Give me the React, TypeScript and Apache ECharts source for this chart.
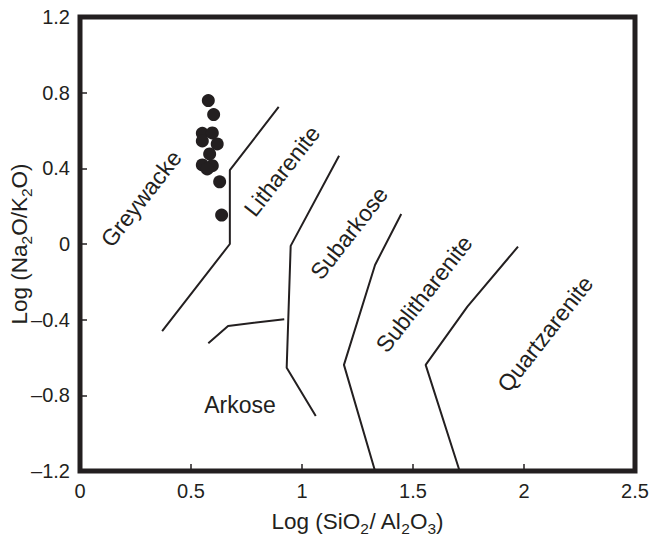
import React, { useEffect, useRef } from 'react';
import * as echarts from 'echarts';

const FONT = '"Liberation Sans", Arial, Helvetica, sans-serif';
const INK = '#231f20';

// axis ranges / ticks
const xMin = 0;
const xMax = 2.5;
const xStep = 0.5;
const yMin = -1.2;
const yMax = 1.2;
const yStep = 0.4;

// sample points (Log SiO2/Al2O3, Log Na2O/K2O)
const sampleX = [0.578, 0.602, 0.551, 0.596, 0.551, 0.618, 0.584, 0.551, 0.596, 0.573, 0.629, 0.638];
const sampleY = [0.758, 0.684, 0.585, 0.587, 0.545, 0.529, 0.476, 0.418, 0.414, 0.397, 0.329, 0.153];

// field boundary lines
const lineGreywacke = [[0.37, -0.46], [0.675, 0.0], [0.675, 0.39], [0.895, 0.725]];
const lineArkose = [[0.578, -0.525], [0.667, -0.433], [0.92, -0.398]];
const lineSubarkose = [[1.167, 0.467], [0.949, -0.01], [0.931, -0.654], [1.062, -0.909]];
const lineSublith = [[1.447, 0.159], [1.329, -0.111], [1.189, -0.639], [1.329, -1.2]];
const lineQuartz = [[1.973, -0.014], [1.745, -0.331], [1.557, -0.639], [1.71, -1.2]];

// field names
const fieldNames = ['Greywacke', 'Litharenite', 'Subarkose', 'Sublitharenite', 'Quartzarenite', 'Arkose'];
const fieldX = [0.275, 0.91, 1.212, 1.55, 2.095, 0.721];
const fieldY = [0.24, 0.386, 0.058, -0.264, -0.475, -0.851];
const fieldAngle = [52, 52, 52, 52, 52, 0];

const boundaries = [lineGreywacke, lineArkose, lineSubarkose, lineSublith, lineQuartz];

export default function App() {
  const ref = useRef<HTMLDivElement>(null);
  useEffect(() => {
    if (!ref.current) return;
    const chart = echarts.init(ref.current, undefined, { renderer: 'svg' });
    const richAxis = {
      a: { fontSize: 22.5, fontFamily: FONT, color: INK, lineHeight: 30, verticalAlign: 'middle' },
      b: { fontSize: 15.5, fontFamily: FONT, color: INK, lineHeight: 15, verticalAlign: 'bottom' },
    };
    const yFmt = (v: number) => {
      const r = Math.round(v * 10) / 10;
      if (r === 0) return '0';
      return (r < 0 ? '\u2013' : '') + Math.abs(r).toFixed(1);
    };
    const option: any = {
      animation: false,
      backgroundColor: '#fff',
      grid: {
        left: 80,
        right: 19,
        top: 17,
        bottom: 65,
        containLabel: false,
        outerBoundsMode: 'none',
        show: true,
        borderColor: INK,
        borderWidth: 5,
        backgroundColor: 'transparent',
      },
      xAxis: {
        type: 'value',
        min: xMin,
        max: xMax,
        interval: xStep,
        splitLine: { show: false },
        axisLine: { show: false, onZero: false },
        axisTick: { show: true, inside: true, length: 7, lineStyle: { color: INK, width: 1.5 } },
        axisLabel: { color: INK, fontSize: 20, fontFamily: FONT, margin: 10 },
        name: '{a|Log (SiO}{b|2}{a|/ Al}{b|2}{a|O}{b|3}{a|)}',
        nameLocation: 'middle',
        nameGap: 35,
        nameMoveOverlap: false,
        nameTextStyle: { rich: richAxis },
      },
      yAxis: {
        type: 'value',
        min: yMin,
        max: yMax,
        interval: yStep,
        splitLine: { show: false },
        axisLine: { show: false, onZero: false },
        axisTick: { show: true, inside: true, length: 7, lineStyle: { color: INK, width: 1.5 } },
        axisLabel: { color: INK, fontSize: 20, fontFamily: FONT, margin: 10, formatter: yFmt },
        name: '{a|Log (Na}{b|2}{a|O/K}{b|2}{a|O)}',
        nameLocation: 'middle',
        nameRotate: 90,
        nameGap: 46,
        nameMoveOverlap: false,
        nameTextStyle: { rich: richAxis },
      },
      series: [
        ...boundaries.map((d) => ({
          type: 'line',
          data: d,
          showSymbol: false,
          symbol: 'none',
          lineStyle: { color: INK, width: 2 },
          silent: true,
          z: 2,
        })),
        {
          type: 'scatter',
          data: sampleX.map((x, i) => [x, sampleY[i]]),
          symbol: 'circle',
          symbolSize: 13,
          itemStyle: { color: INK, opacity: 1 },
          z: 3,
        },
        {
          type: 'scatter',
          symbolSize: 0,
          itemStyle: { color: INK },
          data: fieldNames.map((n, i) => ({
            name: n,
            value: [fieldX[i], fieldY[i]],
            label: { rotate: fieldAngle[i] },
          })),
          label: {
            show: true,
            position: 'inside',
            formatter: '{b}',
            color: INK,
            opacity: 1,
            textBorderWidth: 0,
            fontSize: 23,
            fontFamily: FONT,
          },
          z: 4,
        },
      ],
    };
    chart.setOption(option);
    return () => chart.dispose();
  }, []);
  return (
    <div
      ref={ref}
      style={{ position: 'fixed', left: 0, top: 0, width: 654, height: 536, background: '#fff' }}
    />
  );
}
